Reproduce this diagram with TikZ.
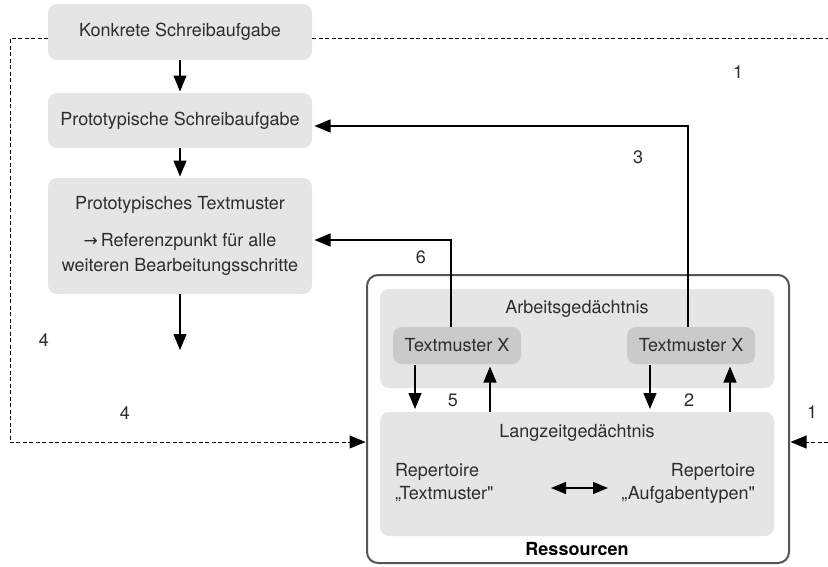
\documentclass[tikz,border=0pt]{standalone}
\usepackage{fontspec}
% plain family without TeX ligature mapping, so " stays a straight quote
\newfontfamily\heros{TeX Gyre Heros}
\newfontfamily\arrowfont{DejaVu Sans}
\usetikzlibrary{arrows.meta,calc}
\definecolor{boxgray}{RGB}{229,229,229}
\definecolor{tmgray}{RGB}{202,202,202}
\definecolor{txt}{RGB}{45,45,45}
\definecolor{framegray}{RGB}{85,85,85}

\begin{document}
\begin{tikzpicture}[x=1pt,y=-1pt,
  font=\heros\fontsize{18}{22}\selectfont, text=txt,
  every node/.style={inner sep=0pt,outer sep=0pt},
  stepbox/.style={fill=boxgray,rounded corners=9pt,minimum width=264pt},
  membox/.style={fill=boxgray,rounded corners=9pt,minimum width=394pt},
  tmbox/.style={fill=tmgray,rounded corners=9pt,minimum width=128pt,minimum height=37pt},
  tip/.style={-{Triangle[length=16pt,width=13pt]}},
  arr/.style={line width=1.2pt,tip},
  dashline/.style={line width=1pt,dash pattern=on 4pt off 2.5pt}
]
\useasboundingbox (0,0) rectangle (828,566);

% process steps on the left
\node[stepbox,minimum height=56pt] (ksa) at (180,32) {Konkrete Schreibaufgabe};
\node[stepbox,minimum height=55pt] (psa) at (180,120.5) {Prototypische Schreibaufgabe};
\node[stepbox,minimum height=116pt,align=center,font=\heros\fontsize{18}{25}\selectfont] (ptm) at (180,236)
  {Prototypisches Textmuster\\[12pt]{\arrowfont\fontsize{17}{17}\selectfont →}\,Referenzpunkt für alle\\weiteren Bearbeitungsschritte};

% resources frame with memory boxes
\node[draw=framegray,line width=2pt,fill=white,rounded corners=11pt,minimum width=422pt,minimum height=288pt] (res) at (578,419) {};
\node[font=\heros\fontsize{18}{22}\selectfont\bfseries,text=black] (reslbl) at (577,549) {Ressourcen};
\node[membox,minimum height=99pt] (agd) at (577,338.5) {};
\node (agdlbl) at (577,309) {Arbeitsgedächtnis};
\node[membox,minimum height=124pt] (lzg) at (577,474) {};
\node (lzglbl) at (577,433) {Langzeitgedächtnis};
\node[tmbox] (tmxl) at (457,345.5) {Textmuster X};
\node[tmbox] (tmxr) at (691,345.5) {Textmuster X};
\node[align=left,anchor=west,font=\heros\fontsize{18}{23}\selectfont] (repl) at (395,483) {Repertoire\\„Textmuster"};
\node[align=right,anchor=east,font=\heros\fontsize{18}{23}\selectfont] (repr) at (755,483) {Repertoire\\„Aufgabentypen"};

% helper coordinates
\coordinate (xa) at (415,0);
\coordinate (xb) at (490,0);
\coordinate (xc) at (650,0);
\coordinate (xd) at (730,0);
\coordinate (x6) at (451,0);
\coordinate (x3) at (688,0);
\coordinate (dl) at (551,488);
\coordinate (dr) at (608,488);
\coordinate (flowend) at (180,350);
\coordinate (dtl) at (10,38);
\coordinate (dbl) at (10,442);
\coordinate (dtr) at (828,38);
\coordinate (dbr) at (828,442);

% main flow
\draw[arr,shorten >=1.5pt] (ksa) -- (psa);
\draw[arr,shorten >=1.5pt] (psa) -- (ptm);
\draw[arr] (ptm.south) -- (flowend);

% feedback lines from working memory
\draw[arr,shorten >=2.5pt] (tmxl.north -| x6) |- ($(ptm.east)+(0,4)$);
\draw[arr,shorten >=2.5pt] (tmxr.north -| x3) |- ($(psa.east)+(0,5.5)$);

% exchange between working and long-term memory
\draw[arr,shorten <=1pt,shorten >=3pt] (tmxl.south -| xa) -- (lzg.north -| xa);
\draw[arr,shorten >=2.5pt] (lzg.north -| xb) -- (tmxl.south -| xb);
\draw[arr,shorten <=1pt,shorten >=3pt] (tmxr.south -| xc) -- (lzg.north -| xc);
\draw[arr,shorten >=2.5pt] (lzg.north -| xd) -- (tmxr.south -| xd);

% link between repertoires
\draw[line width=1.2pt,{Triangle[length=15pt,width=12pt]}-{Triangle[length=15pt,width=12pt]}] (dl) -- (dr);

% dashed input paths
\draw[dashline,tip,shorten >=1.5pt] ($(ksa.west)+(0,6)$) -- (dtl) -- (dbl) -- (res.west |- dbl);
\draw[dashline] ($(ksa.east)+(0,6)$) -- (dtr);
\draw[dashline,tip,shorten >=1.5pt] (dbr) -- (res.east |- dbr);

% step numbers
\node (n1a) at (738,72) {1};
\node (n1b) at (812,412) {1};
\node (n2) at (689,400) {2};
\node (n3) at (638,157) {3};
\node (n4a) at (44,340) {4};
\node (n4b) at (125,413) {4};
\node (n5) at (453,400) {5};
\node (n6) at (421,257) {6};
\end{tikzpicture}
\end{document}
